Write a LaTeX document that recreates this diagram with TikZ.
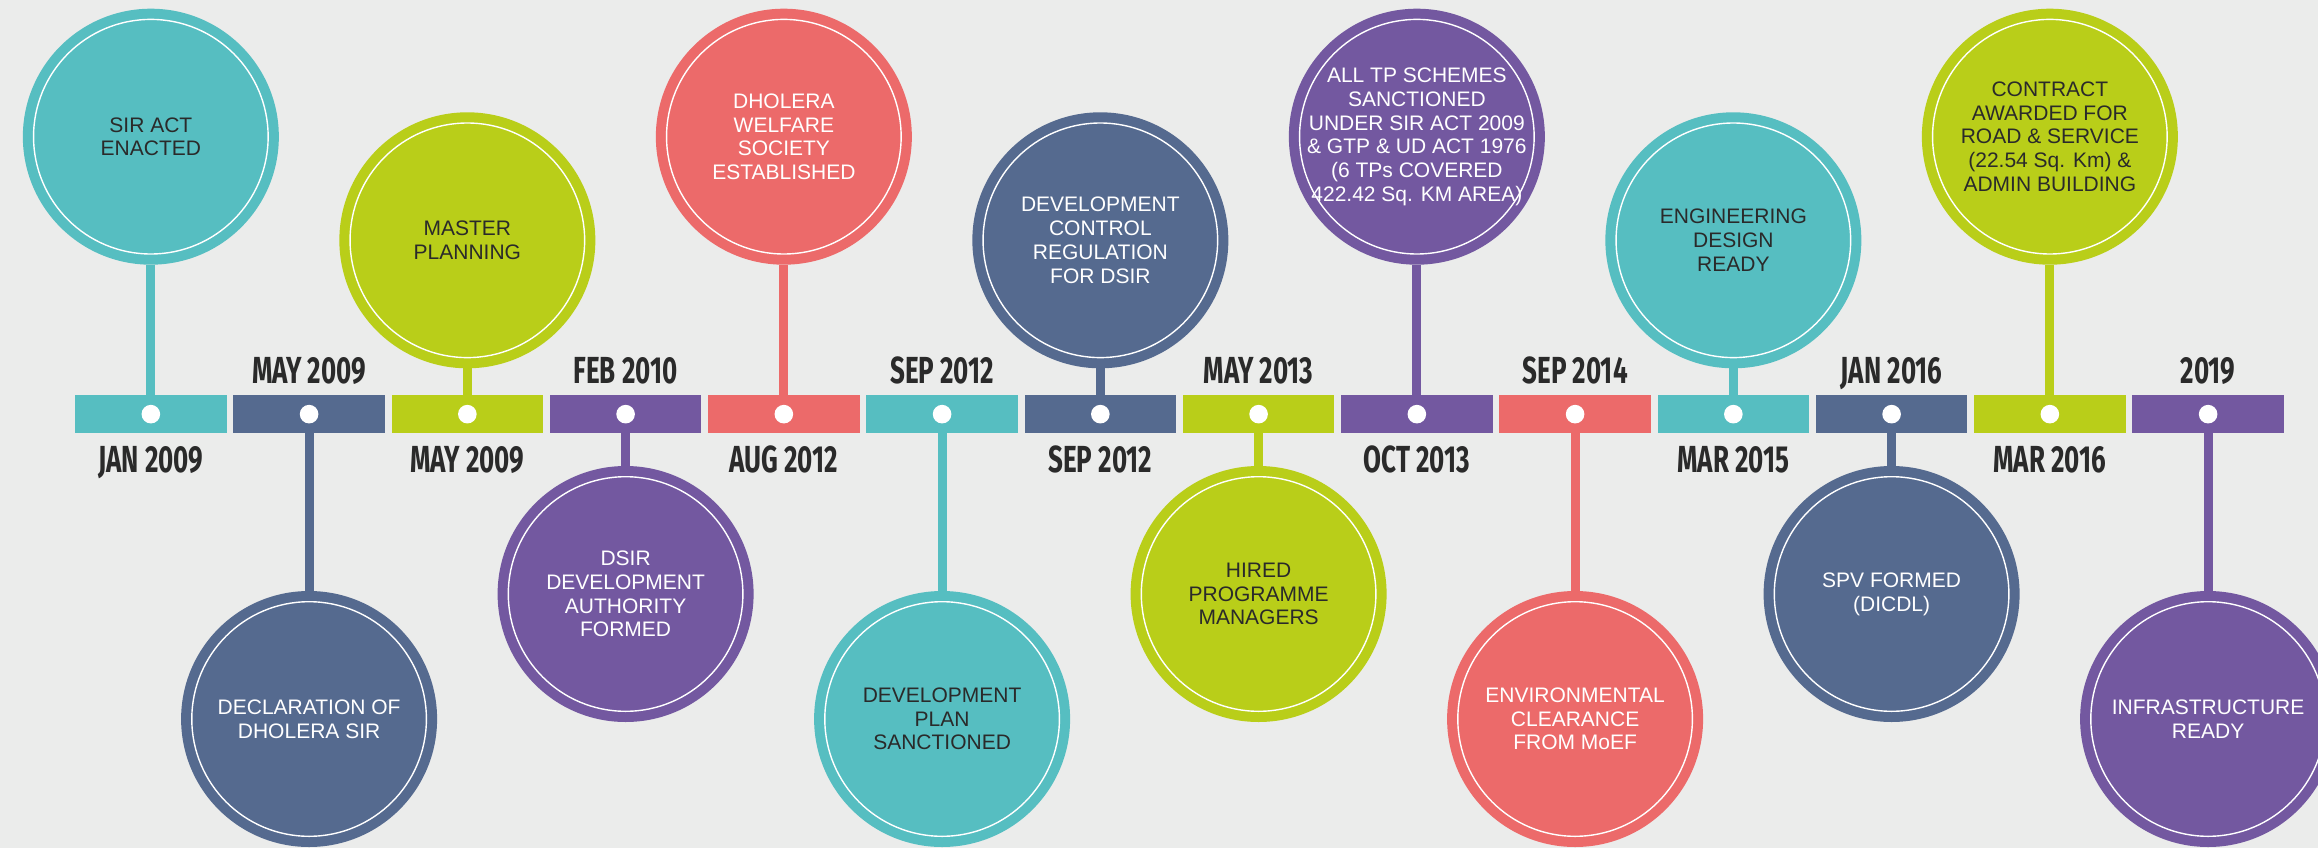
\documentclass[tikz,border=0pt]{standalone}
\usepackage{fontspec}
\setmainfont{Liberation Sans}
\newfontfamily\datefont[FakeStretch=0.69]{Fira Sans}
\definecolor{bg}{HTML}{EBECEB}
\definecolor{cteal}{HTML}{56BEC1}
\definecolor{cslate}{HTML}{556A8F}
\definecolor{clime}{HTML}{B9CE19}
\definecolor{cpurple}{HTML}{7358A0}
\definecolor{ccoral}{HTML}{EC6A6A}
\definecolor{ink}{HTML}{2A2A2A}
\tikzset{
  segbox/.style={rectangle, minimum width=151.7pt, minimum height=38.3pt, inner sep=0pt, outer sep=0pt, fill=#1},
  whitedot/.style={circle, minimum size=18.6pt, inner sep=0pt, fill=white},
  evtcircle/.style={circle, minimum size=256pt, inner sep=0pt, outer sep=0pt, fill=#1},
  evttext/.style={align=center, inner sep=0pt, font=\fontsize{21}{23.7}\selectfont},
  datelabel/.style={anchor=base, inner sep=0pt, text=ink, font=\datefont\bfseries\fontsize{37.7}{40}\selectfont},
  stem/.style={line width=9pt, draw=#1},
  ring/.style={draw=white, line width=1.4pt}
}
\newcommand\upmilestone[6]{%
  \pgfmathsetmacro\cx{150.85+158.25*#1}
  \node[segbox=#2] (s#1) at (\cx,414.15) {};
  \node[evtcircle=#2] (c#1) at (\cx,#4) {};
  \draw[stem=#2] (c#1.south) -- (s#1.north);
  \draw[ring] (c#1.center) circle[radius=117.3];
  \node[evttext, text=#3] (x#1) at (c#1.center) {#5};
  \node[whitedot] (d#1) at (s#1.center) {};
  \node[datelabel] (t#1) at (\cx,472) {#6};
}
\newcommand\downmilestone[6]{%
  \pgfmathsetmacro\cx{150.85+158.25*#1}
  \node[segbox=#2] (s#1) at (\cx,414.15) {};
  \node[evtcircle=#2] (c#1) at (\cx,#4) {};
  \draw[stem=#2] (s#1.south) -- (c#1.north);
  \draw[ring] (c#1.center) circle[radius=117.3];
  \node[evttext, text=#3] (x#1) at (c#1.center) {#5};
  \node[whitedot] (d#1) at (s#1.center) {};
  \node[datelabel] (t#1) at (\cx,383) {#6};
}
\begin{document}
\begin{tikzpicture}[x=1pt,y=-1pt]
\useasboundingbox (0,0) rectangle (2318,848);
\clip (0,0) rectangle (2318,848);
\fill[bg] (0,0) rectangle (2318,848);

\upmilestone{0}{cteal}{ink}{136.7}{SIR ACT\\ENACTED}{JAN 2009}
\downmilestone{1}{cslate}{white}{719}{DECLARATION OF\\DHOLERA SIR}{MAY 2009}
\upmilestone{2}{clime}{ink}{240.3}{MASTER\\PLANNING}{MAY 2009}
\downmilestone{3}{cpurple}{white}{594}{DSIR\\DEVELOPMENT\\AUTHORITY\\FORMED}{FEB 2010}
\upmilestone{4}{ccoral}{white}{136.7}{DHOLERA\\WELFARE\\SOCIETY\\ESTABLISHED}{AUG 2012}
\downmilestone{5}{cteal}{ink}{719}{DEVELOPMENT\\PLAN\\SANCTIONED}{SEP 2012}
\upmilestone{6}{cslate}{white}{240.3}{DEVELOPMENT\\CONTROL\\REGULATION\\FOR DSIR}{SEP 2012}
\downmilestone{7}{clime}{ink}{594}{HIRED\\PROGRAMME\\MANAGERS}{MAY 2013}
\upmilestone{8}{cpurple}{white}{136.7}{ALL TP SCHEMES\\SANCTIONED\\UNDER SIR ACT 2009\\\& GTP \& UD ACT 1976\\(6 TPs COVERED\\422.42 Sq. KM AREA)}{OCT 2013}
\downmilestone{9}{ccoral}{white}{719}{ENVIRONMENTAL\\CLEARANCE\\FROM MoEF}{SEP 2014}
\upmilestone{10}{cteal}{ink}{240.3}{ENGINEERING\\DESIGN\\READY}{MAR 2015}
\downmilestone{11}{cslate}{white}{594}{SPV FORMED\\(DICDL)}{JAN 2016}
\upmilestone{12}{clime}{ink}{136.7}{CONTRACT\\AWARDED FOR\\ROAD \& SERVICE\\(22.54 Sq. Km) \&\\ADMIN BUILDING}{MAR 2016}
\downmilestone{13}{cpurple}{white}{719}{INFRASTRUCTURE\\READY}{2019}
\end{tikzpicture}
\end{document}
